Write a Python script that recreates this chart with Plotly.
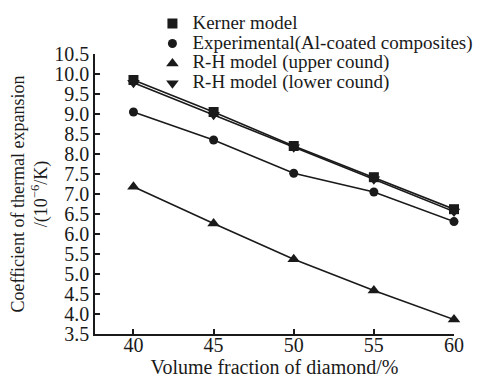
import plotly.graph_objects as go

x_vals = [40, 45, 50, 55, 60]
kerner = [9.85, 9.05, 8.20, 7.42, 6.62]
experimental = [9.05, 8.35, 7.52, 7.05, 6.31]
rh_upper = [7.18, 6.26, 5.37, 4.59, 3.86]
rh_lower = [9.78, 8.98, 8.17, 7.37, 6.56]

series = [
    ("Kerner model", kerner, "square", 10),
    ("Experimental(Al-coated composites)", experimental, "circle", 9),
    ("R-H model (upper cound)", rh_upper, "triangle-up", 11),
    ("R-H model (lower cound)", rh_lower, "triangle-down", 11),
]

ink = "#1a1a1a"
fig = go.Figure()
for name, ys, sym, sz in series:
    fig.add_trace(go.Scatter(
        x=x_vals, y=ys, mode="lines", showlegend=False, hoverinfo="skip",
        line=dict(color=ink, width=1.6), cliponaxis=False,
    ))
for name, ys, sym, sz in series:
    fig.add_trace(go.Scatter(
        x=x_vals, y=ys, name='<span style="font-size:19px">' + name + '</span>',
        mode="markers",
        marker=dict(symbol=sym, size=sz, color=ink),
        cliponaxis=False,
    ))

font = "Times New Roman, Liberation Serif, DejaVu Serif, serif"
fig.update_layout(
    width=488, height=379,
    margin=dict(l=95, r=34, t=54, b=45, autoexpand=False),
    paper_bgcolor="white", plot_bgcolor="white",
    font=dict(family=font, size=18, color=ink),
    showlegend=True,
    legend=dict(
        x=0.16, y=1.162, xanchor="left", yanchor="top",
        bgcolor="rgba(0,0,0,0)", font=dict(size=13, family=font),
        itemsizing="trace", tracegroupgap=0, itemwidth=30,
    ),
    xaxis=dict(
        range=[37.6, 60], tickvals=x_vals, ticks="inside", ticklen=5,
        tickwidth=1.5, tickcolor=ink, showline=True, linecolor=ink, linewidth=1.5,
        showgrid=False, zeroline=False, tickfont=dict(size=20, family=font),
        ticklabelstandoff=-8,
        title=dict(text="Volume fraction of diamond/%", font=dict(size=20, family=font), standoff=0),
    ),
    yaxis=dict(
        range=[3.5, 10.5], dtick=0.5, tickformat=".1f", ticks="inside", ticklen=5,
        tickwidth=1.5, tickcolor=ink, showline=True, linecolor=ink, linewidth=1.5,
        showgrid=False, zeroline=False, tickfont=dict(size=20, family=font),
        title=dict(text="Coefficient of thermal expansion<br>/(10<sup>−6</sup>/K)",
                   font=dict(size=18, family=font), standoff=2),
    ),
)
fig.write_html("out.html", config={"displayModeBar": False},
               post_script="document.body.style.margin='0px';")
